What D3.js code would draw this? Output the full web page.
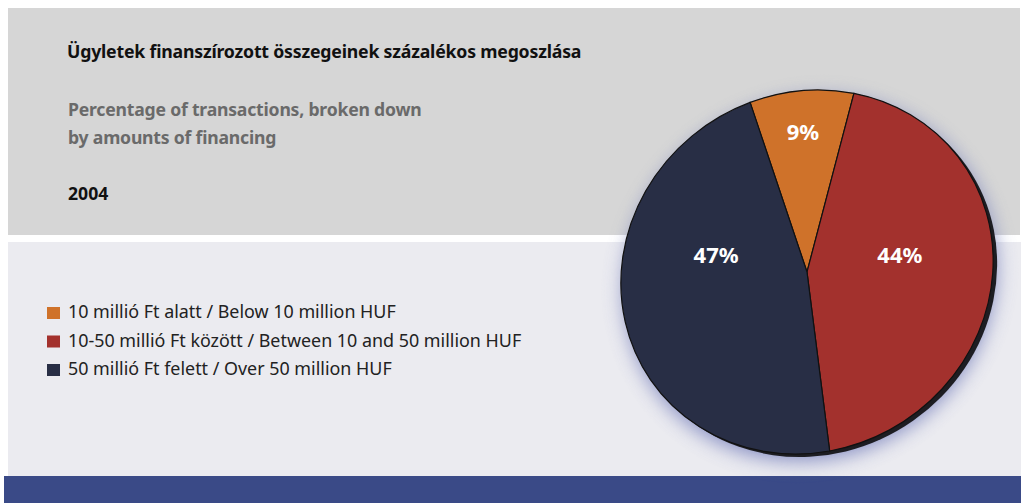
<!DOCTYPE html>
<html>
<head>
<meta charset="utf-8">
<script src="https://cdn.jsdelivr.net/npm/d3@7"></script>
<style>
  html, body { margin: 0; padding: 0; background: #ffffff; }
  svg { display: block; font-family: "Noto Sans", "Open Sans", sans-serif; }
</style>
</head>
<body>
<svg id="chart" width="1021" height="503"></svg>
<script>
// data
var categories = [
    "10 millió Ft alatt / Below 10 million HUF",
    "10-50 millió Ft között / Between 10 and 50 million HUF",
    "50 millió Ft felett / Over 50 million HUF"
];
var shares = [9, 44, 47];
var sliceColors = ["#CF722A", "#A3312D", "#282E45"];
var titleHu = "Ügyletek finanszírozott összegeinek százalékos megoszlása";
var titleEn = ["Percentage of transactions, broken down", "by amounts of financing"];
var yearLabel = "2004";

var svg = d3.select("#chart");

//background panels
svg.append("rect").attr("x", 8).attr("y", 8).attr("width", 1012).attr("height", 227).attr("fill", "#D6D6D6");
svg.append("rect").attr("x", 8).attr("y", 242).attr("width", 1013).attr("height", 234).attr("fill", "#EBEBF0");
svg.append("rect").attr("x", 4).attr("y", 476).attr("width", 1017).attr("height", 27).attr("fill", "#3A4A87");

//titles
svg.append("text").text(titleHu)
    .attr("x", 67).attr("y", 58)
    .style("font-size", "17.7px").style("font-weight", "bold").attr("fill", "#111")
    .style("letter-spacing", "-0.2px");

titleEn.forEach(function(t, i) {
    svg.append("text").text(t)
        .attr("x", 68).attr("y", 116 + i * 28)
        .style("font-size", "17.6px").style("font-weight", "bold").attr("fill", "#6A6A6A")
        .style("letter-spacing", "-0.2px");
});

svg.append("text").text(yearLabel)
    .attr("x", 68).attr("y", 200)
    .style("font-size", "17.6px").style("font-weight", "bold").attr("fill", "#111");

//legend
var legend = svg.append("g");
categories.forEach(function(c, i) {
    var y = 318 + i * 28.5;
    legend.append("rect")
        .attr("x", 47).attr("y", y - 11)
        .attr("width", 13).attr("height", 12)
        .attr("fill", sliceColors[i]);
    legend.append("text").text(c)
        .attr("x", 68).attr("y", y)
        .style("font-size", "17.9px").attr("fill", "#222");
});

// pie, slightly squashed and tilted
var cx = 807, cy = 272, R = 184;
var sx = 190 / R, sy = 178 / R, tilt = -35;
var pieTransform = "translate(" + cx + "," + cy + ") rotate(" + tilt + ") scale(" + sx + "," + sy + ")";

function project(p) {
    var x = p[0] * sx, y = p[1] * sy;
    var a = tilt * Math.PI / 180;
    return [cx + x * Math.cos(a) - y * Math.sin(a), cy + x * Math.sin(a) + y * Math.cos(a)];
}

var defs = svg.append("defs");
defs.append("filter").attr("id", "glow")
    .attr("x", "-30%").attr("y", "-30%").attr("width", "160%").attr("height", "160%")
    .append("feGaussianBlur").attr("stdDeviation", 10);

// soft blue glow
svg.append("circle")
    .attr("r", R)
    .attr("transform", "translate(3,7) " + pieTransform)
    .attr("fill", "#6E78B8")
    .attr("opacity", 0.8)
    .attr("filter", "url(#glow)");

// dark rim
svg.append("circle")
    .attr("r", R)
    .attr("transform", "translate(4,3) " + pieTransform)
    .attr("fill", "#1D1D22");

var pie = d3.pie().sort(null)
    .startAngle(0.27).endAngle(0.27 + 2 * Math.PI);
var arcs = pie(shares);

var arc = d3.arc().innerRadius(0).outerRadius(R);

var slices = svg.append("g").attr("transform", pieTransform);
slices.selectAll("path")
    .data(arcs)
    .enter()
    .append("path")
    .attr("d", arc)
    .attr("fill", function(d, i) { return sliceColors[i]; })
    .attr("stroke", "#111")
    .attr("stroke-width", 1.2)
    .attr("vector-effect", "non-scaling-stroke");

// labels: small slice near the rim, big ones on a common band above the centre
svg.selectAll("text.pct")
    .data(arcs)
    .enter()
    .append("text")
    .attr("class", "pct")
    .each(function(d) {
        var small = d.data < 15;
        var r = small ? R * 0.78 : R * 0.5;
        var p = project(d3.arc().innerRadius(r).outerRadius(r).centroid(d));
        d3.select(this).attr("x", p[0]).attr("y", small ? p[1] : cy - R * 0.1);
    })
    .attr("text-anchor", "middle")
    .attr("dominant-baseline", "central")
    .style("font-size", "22px").style("font-weight", "bold")
    .attr("fill", "#fff")
    .text(function(d) { return d.data + "%"; });
</script>
</body>
</html>
